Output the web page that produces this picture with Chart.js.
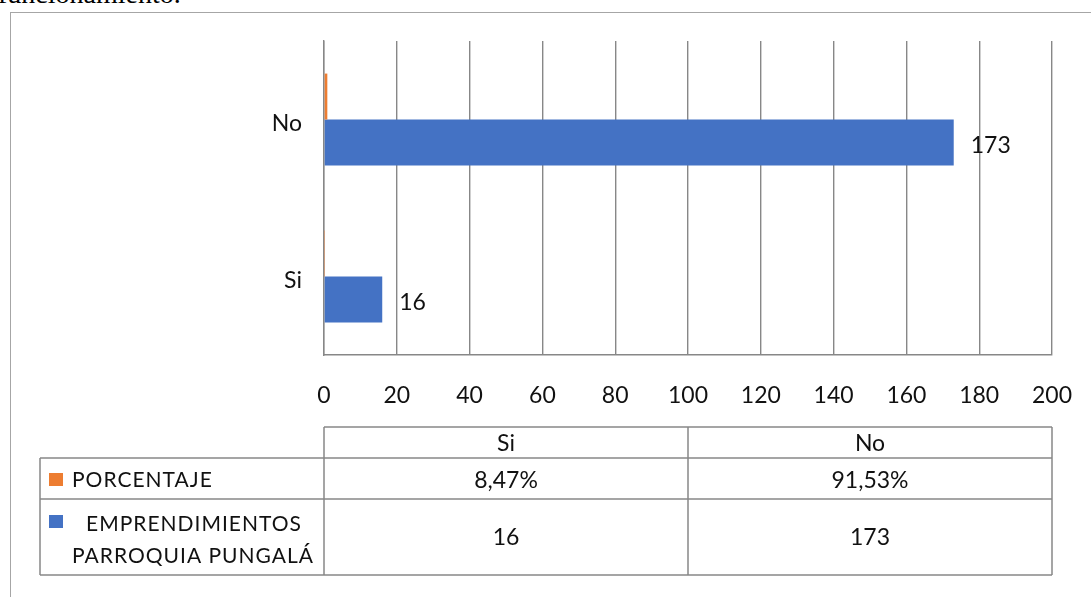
<!DOCTYPE html>
<html>
<head>
<meta charset="utf-8">
<script src="https://cdn.jsdelivr.net/npm/chart.js@4"></script>
<style>
  body { margin: 0; background: #fff; overflow: hidden; width: 1091px; height: 597px; position: relative; }
  #caption { position: absolute; left: -2px; top: -20px; font: 28px/1 "Liberation Serif"; color: #000; white-space: nowrap; }
  #frame { position: absolute; left: 10px; top: 12px; width: 1200px; height: 700px;
           border-left: 1.5px solid #a6a6a6; border-top: 1.5px solid #a6a6a6; }
  canvas { position: absolute; left: 0; top: 0; }
</style>
</head>
<body>
<div id="caption">funcionamiento.</div>
<div id="frame"></div>
<canvas id="chart" width="1091" height="597"></canvas>
<script>
// categories and series
const categories = ["Si", "No"];
const porcentaje = [0.0847, 0.9153];
const emprendimientos = [16, 173];
const seriesNames = ["PORCENTAJE", "EMPRENDIMIENTOS PARROQUIA PUNGALÁ"];
const seriesColors = ["#ED7D31", "#4472C4"];
const xMin = 0, xMax = 200, xStep = 20;

const FONT = "Lato";
const FS = 23;
const GRID = "#878787";

const fmtPct = v => (v * 100).toFixed(2).replace(".", ",") + "%";

// ----- value labels next to the blue bars -----
const barLabels = {
  id: "barLabels",
  afterDatasetsDraw(chart) {
    const ctx = chart.ctx;
    const meta = chart.getDatasetMeta(1);
    ctx.save();
    ctx.font = `${FS}px ${FONT}`;
    ctx.fillStyle = "#111";
    ctx.textAlign = "left";
    ctx.textBaseline = "middle";
    meta.data.forEach((bar, i) => {
      ctx.fillText(String(emprendimientos[i]), bar.x + 17, bar.y + 3);
    });
    ctx.restore();
  }
};

// ----- data table under the axis -----
const dataTable = {
  id: "dataTable",
  afterDraw(chart) {
    const ctx = chart.ctx;
    const a = chart.chartArea;
    const n = categories.length;
    const colW = (a.right - a.left) / n;
    const headTop = 427, row1 = 458, row2 = 499, bottom = 575, tableLeft = 40;

    const line = (x1, y1, x2, y2) => {
      ctx.beginPath(); ctx.moveTo(x1, y1); ctx.lineTo(x2, y2); ctx.stroke();
    };

    ctx.save();
    ctx.strokeStyle = GRID;
    ctx.lineWidth = 1.5;
    line(a.left, headTop, a.right, headTop);
    line(tableLeft, row1, a.right, row1);
    line(tableLeft, row2, a.right, row2);
    line(tableLeft, bottom, a.right, bottom);
    line(tableLeft, row1, tableLeft, bottom);
    for (let i = 0; i <= n; i++) line(a.left + i * colW, headTop, a.left + i * colW, bottom);

    ctx.font = `${FS}px ${FONT}`;
    ctx.fillStyle = "#111";
    ctx.textBaseline = "middle";
    ctx.textAlign = "center";
    categories.forEach((c, i) => {
      const cx = a.left + (i + 0.5) * colW;
      ctx.fillText(c, cx, (headTop + row1) / 2 + 1);
      ctx.fillText(fmtPct(porcentaje[i]), cx, (row1 + row2) / 2 + 2);
      ctx.fillText(String(emprendimientos[i]), cx, (row2 + bottom) / 2 + 1);
    });

    // legend keys
    ctx.textAlign = "left";
    ctx.fillStyle = seriesColors[0];
    ctx.fillRect(49, 473, 14, 13);
    ctx.fillStyle = seriesColors[1];
    ctx.fillRect(49, 515, 14, 13);
    ctx.fillStyle = "#111";
    ctx.font = `21px ${FONT}`;
    ctx.letterSpacing = "1px";
    ctx.fillText(seriesNames[0], 72, (row1 + row2) / 2 + 2);
    const words = seriesNames[1].split(" ");
    ctx.fillText(words[0], 86, 524);
    ctx.fillText(words.slice(1).join(" "), 72, 556);
    ctx.restore();
  }
};

new Chart(document.getElementById("chart"), {
  type: "bar",
  data: {
    labels: categories,
    datasets: [
      { label: seriesNames[0], data: porcentaje, backgroundColor: seriesColors[0] },
      { label: seriesNames[1], data: emprendimientos, backgroundColor: seriesColors[1] }
    ]
  },
  options: {
    indexAxis: "y",
    responsive: false,
    animation: false,
    layout: { padding: { left: 0, top: 41, right: 39, bottom: 0 } },
    datasets: { bar: { categoryPercentage: 0.585, barPercentage: 1 } },
    plugins: { legend: { display: false }, tooltip: { enabled: false } },
    scales: {
      x: {
        min: xMin, max: xMax,
        ticks: { stepSize: xStep, padding: 27, color: "#111", font: { family: FONT, size: FS } },
        grid: { color: GRID, lineWidth: 1.4, drawTicks: false },
        border: { color: GRID, width: 1.4 },
        afterFit: s => { s.height = 597 - 355; s.paddingLeft = 0; s.paddingRight = 0; }
      },
      y: {
        reverse: true,
        ticks: { padding: 22, labelOffset: 4, color: "#111", font: { family: FONT, size: FS } },
        grid: { display: false, drawTicks: false },
        border: { color: GRID, width: 1.4 },
        afterFit: s => { s.width = 324; }
      }
    }
  },
  plugins: [barLabels, dataTable]
});
</script>
</body>
</html>
